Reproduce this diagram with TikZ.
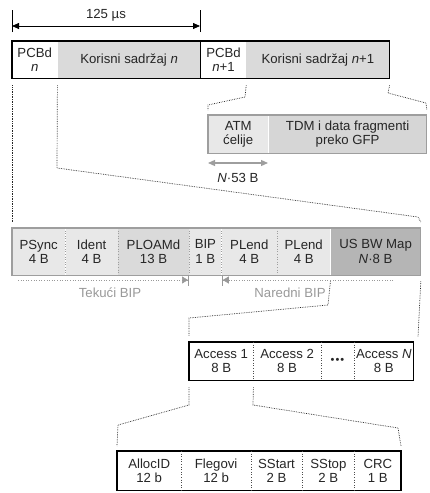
\documentclass[tikz,border=0pt]{standalone}
\usepackage{fontspec}
\setmainfont{Liberation Sans}
\usetikzlibrary{arrows.meta,calc}

\definecolor{cellLight}{gray}{0.91}
\definecolor{cellMid}{gray}{0.855}
\definecolor{cellDark}{gray}{0.71}
\definecolor{rimGray}{gray}{0.62}
\definecolor{noteGray}{gray}{0.6}
\definecolor{inkGray}{gray}{0.15}

\begin{document}
\begin{tikzpicture}[x=1pt, y=-1pt,
  every node/.style={font=\fontsize{13.2}{14.5}\selectfont, text=inkGray},
  cell/.style={anchor=north west, inner sep=0pt, align=center},
  frame/.style={draw=black, line width=1.2pt},
  greyframe/.style={draw=rimGray, line width=1.2pt},
  sep/.style={black!70, line width=0.6pt, dotted},
  greysep/.style={rimGray, line width=0.6pt, dotted},
  guide/.style={black!85, line width=0.7pt, densely dotted},
  spanTip/.tip={Triangle[length=7pt, width=6pt]},
  bipTip/.tip={Triangle[length=6pt, width=7pt] Bar[width=11pt, line width=1.2pt]}]
  \useasboundingbox (0,0) rectangle (430,493);

  % Frame of 125 us: two PCBd + payload pairs
  \node[cell, fill=white, minimum width=45pt, minimum height=37pt] (pcbdA) at (12,41) {PCBd\\\textit{n}};
  \node[cell, fill=cellMid, minimum width=143pt, minimum height=37pt] (payA) at (pcbdA.north east) {Korisni sadržaj \textit{n}};
  \node[cell, fill=white, minimum width=45pt, minimum height=37pt] (pcbdB) at (payA.north east) {PCBd\\\textit{n}+1};
  \node[cell, fill=cellMid, minimum width=143pt, minimum height=37pt] (payB) at (pcbdB.north east) {Korisni sadržaj \textit{n}+1};
  \draw[frame] (pcbdA.north west) rectangle (payB.south east);
  \draw[frame] (payA.north east) -- (payA.south east);

  % Duration of one frame
  \draw[line width=0.8pt] (pcbdA.north west) ++(0,-9) -- ++(0,-22);
  \draw[line width=0.8pt] (payA.north east) ++(0,-9) -- ++(0,-22);
  \coordinate (spanL) at (12,26);
  \coordinate (spanR) at (200,26);
  \draw[spanTip-spanTip, line width=0.8pt] (spanL) -- (spanR);
  \node (span) at (106,15) {125 µs};

  % Payload split: ATM cells and GFP fragments
  \node[cell, fill=cellLight, minimum width=60pt, minimum height=38pt] (atm) at (208,115) {ATM\\ćelije};
  \node[cell, fill=black!16, minimum width=158pt, minimum height=38pt] (tdm) at (atm.north east) {TDM i data fragmenti\\preko GFP};
  \draw[greyframe] (atm.north west) rectangle (tdm.south east);
  \coordinate (atmL) at (208,163);
  \coordinate (atmR) at (268,163);
  \draw[spanTip-spanTip, rimGray, line width=1.2pt] (atmL) -- (atmR);
  \node (atmlen) at (238,178) {\textit{N}·53 B};

  % PCBd fields
  \node[cell, fill=cellLight, minimum width=53pt, minimum height=47pt] (psync) at (12,228) {PSync\\4 B};
  \node[cell, fill=cellLight, minimum width=52pt, minimum height=47pt] (ident) at (psync.north east) {Ident\\4 B};
  \node[cell, fill=cellMid, minimum width=71pt, minimum height=47pt] (ploamd) at (ident.north east) {PLOAMd\\13 B};
  \node[cell, fill=cellLight, minimum width=32pt, minimum height=47pt] (bip) at (ploamd.north east) {BIP\\1 B};
  \node[cell, fill=cellLight, minimum width=55pt, minimum height=47pt] (plendA) at (bip.north east) {PLend\\4 B};
  \node[cell, fill=cellLight, minimum width=53pt, minimum height=47pt] (plendB) at (plendA.north east) {PLend\\4 B};
  \node[cell, fill=cellDark, minimum width=90pt, minimum height=47pt] (usbw) at (plendB.north east) {US BW Map\\\textit{N}·8 B};
  \draw[greyframe] (psync.north west) rectangle (usbw.south east);
  \foreach \c in {psync,ident,ploamd,bip,plendA}
    \draw[greysep] (\c.north east) -- (\c.south east);

  % BIP ranges
  \coordinate (tekStart) at (18,280);
  \coordinate (narStart) at (393,280);
  \draw[noteGray, line width=0.6pt, dotted, -bipTip] (tekStart) -- (bip.west |- tekStart);
  \draw[noteGray, line width=0.6pt, dotted, -bipTip] (narStart) -- (bip.east |- narStart);
  \node[text=noteGray] (tekuci) at (110,293) {Tekući BIP};
  \node[text=noteGray] (naredni) at (290,293) {Naredni BIP};

  % Upstream bandwidth map entries
  \node[cell, fill=white, minimum width=64pt, minimum height=38pt] (accA) at (189,342) {Access 1\\8 B};
  \node[cell, fill=white, minimum width=67pt, minimum height=38pt] (accB) at (accA.north east) {Access 2\\8 B};
  \node[cell, fill=white, minimum width=33pt, minimum height=38pt, font=\fontsize{11}{11}\selectfont] (accDots) at (accB.north east) {•\kern1pt•\kern1pt•};
  \node[cell, fill=white, minimum width=59pt, minimum height=38pt] (accN) at (accDots.north east) {Access \textit{N}\\8 B};
  \draw[frame] (accA.north west) rectangle (accN.south east);
  \foreach \c in {accA,accB,accDots}
    \draw[sep] (\c.north east) -- (\c.south east);

  % Fields of one access
  \node[cell, fill=white, minimum width=64pt, minimum height=39pt] (alloc) at (117,451) {AllocID\\12 b};
  \node[cell, fill=white, minimum width=69pt, minimum height=39pt] (flags) at (alloc.north east) {Flegovi\\12 b};
  \node[cell, fill=white, minimum width=51pt, minimum height=39pt] (sstart) at (flags.north east) {SStart\\2 B};
  \node[cell, fill=white, minimum width=52pt, minimum height=39pt] (sstop) at (sstart.north east) {SStop\\2 B};
  \node[cell, fill=white, minimum width=46pt, minimum height=39pt] (crc) at (sstop.north east) {CRC\\1 B};
  \draw[frame] (alloc.north west) rectangle (crc.south east);
  \foreach \c in {alloc,flags,sstart,sstop}
    \draw[sep] (\c.north east) -- (\c.south east);

  % Zoom guides between the levels
  \draw[guide] ([yshift=-7pt]pcbdA.south west) -- ([yshift=6pt]psync.north west);
  \draw[guide] ([yshift=-7pt]pcbdA.south east) -- (57,168) -- (418,217) -- ([yshift=6pt]usbw.north east);
  \draw[guide] ([yshift=-7pt]pcbdB.south east) -- (245,97) -- (208,105) -- ([yshift=5pt]atm.north west);
  \draw[guide] ([yshift=-7pt]payB.south east) -- (388,93) -- (426,103) -- ([yshift=5pt]tdm.north east);
  \draw[guide] ([yshift=-6pt]usbw.south west) -- (328,305) -- (189,318) -- ([yshift=6pt]accA.north west);
  \draw[guide] ([yshift=-6pt]usbw.south east) -- (418,337);
  \draw[guide] ([yshift=-7pt]accA.south west) -- (189,405) -- (118,425) -- ([yshift=5pt]alloc.north west);
  \draw[guide] ([yshift=-7pt]accA.south east) -- (253,405) -- (398,428) -- ([yshift=5pt]crc.north east);
\end{tikzpicture}
\end{document}
